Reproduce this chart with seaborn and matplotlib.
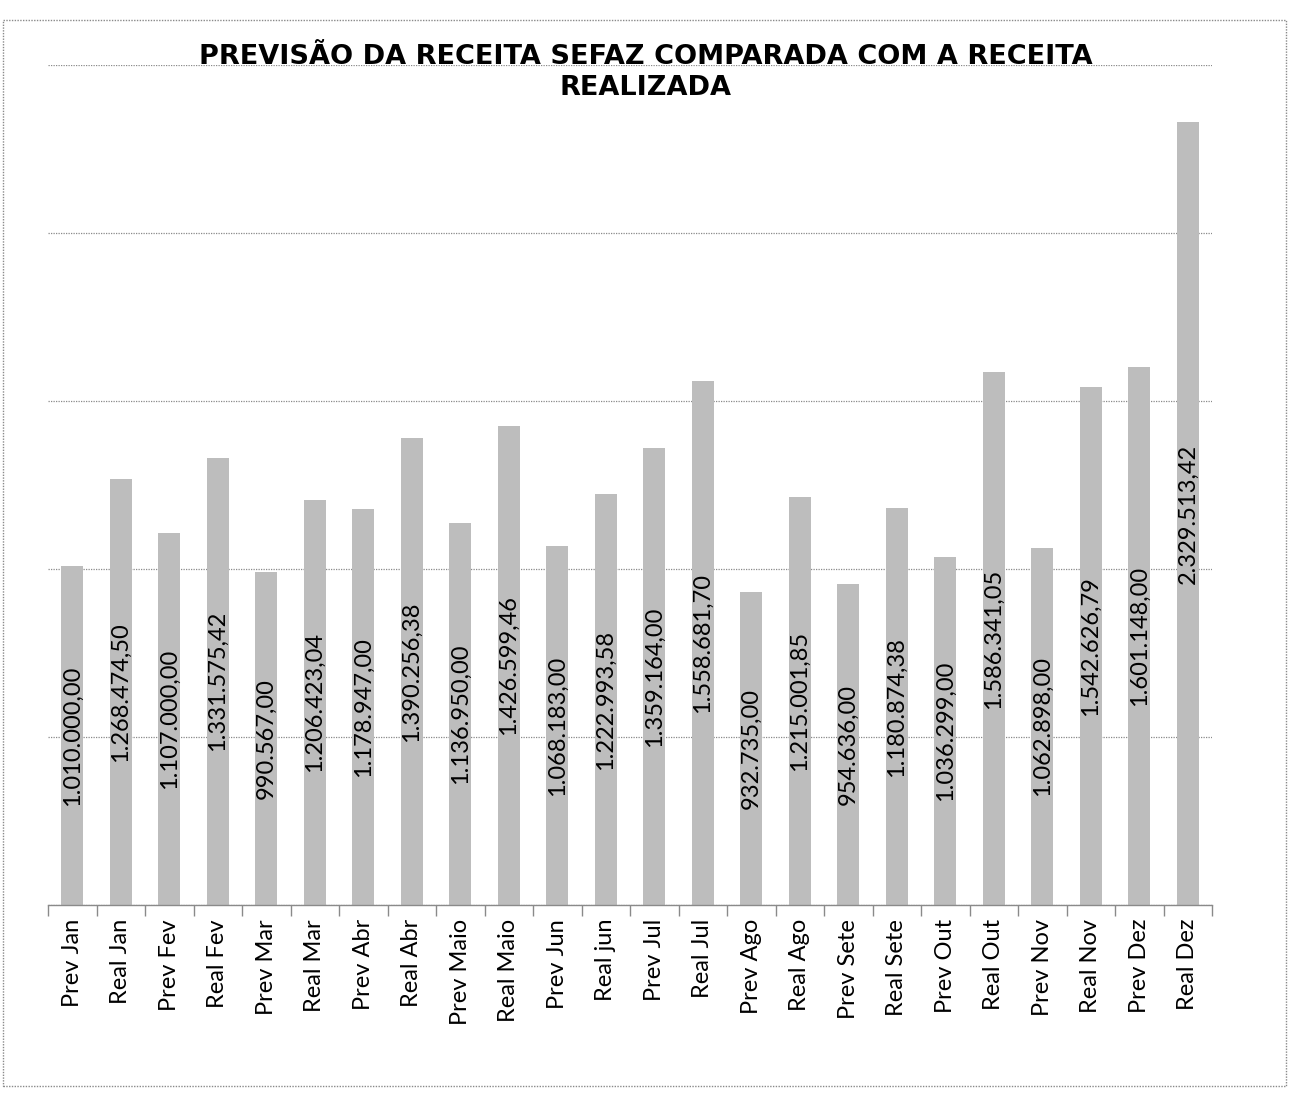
import matplotlib
matplotlib.use("Agg")
import matplotlib.pyplot as plt
import seaborn as sns
import pandas as pd
from matplotlib.patches import Rectangle

categories = ["Prev Jan", "Real Jan", "Prev Fev", "Real Fev", "Prev Mar", "Real Mar",
              "Prev Abr", "Real Abr", "Prev Maio", "Real Maio", "Prev Jun", "Real jun",
              "Prev Jul", "Real Jul", "Prev Ago", "Real Ago", "Prev Sete", "Real Sete",
              "Prev Out", "Real Out", "Prev Nov", "Real Nov", "Prev Dez", "Real Dez"]
values = [1010000.00, 1268474.50, 1107000.00, 1331575.42, 990567.00, 1206423.04,
          1178947.00, 1390256.38, 1136950.00, 1426599.46, 1068183.00, 1222993.58,
          1359164.00, 1558681.70, 932735.00, 1215001.85, 954636.00, 1180874.38,
          1036299.00, 1586341.05, 1062898.00, 1542626.79, 1601148.00, 2329513.42]
title = "PREVISÃO DA RECEITA SEFAZ COMPARADA COM A RECEITA\nREALIZADA"

sns.set_theme(style="white")
plt.rcParams["font.family"] = ["Lato", "DejaVu Sans"]

df = pd.DataFrame({"cat": categories, "val": values})

fig = plt.figure(figsize=(12.91, 10.93), dpi=100)
ax = fig.add_axes([48/1291, 1-905/1093, (1212-48)/1291, (905-65)/1093])

sns.barplot(data=df, x="cat", y="val", color="#bdbdbd", saturation=1,
            width=0.46, ax=ax, edgecolor="none")

ax.set_ylim(0, 2500000)
ax.set_xlim(-0.5, len(categories)-0.5)
ax.set_yticks([0, 500000, 1000000, 1500000, 2000000, 2500000])
ax.set_yticklabels([])
ax.tick_params(axis="y", length=0)
ax.yaxis.grid(True, color="#8a8a8a", linestyle=(0, (1, 1)), linewidth=0.9)
ax.set_axisbelow(True)
ax.set_xlabel("")
ax.set_ylabel("")

for s in ["left", "right", "top"]:
    ax.spines[s].set_visible(False)
ax.spines["bottom"].set_color("#8a8a8a")
ax.spines["bottom"].set_linestyle((0, (1, 1)))
ax.spines["bottom"].set_linewidth(1.0)

ax.set_xticks(range(len(categories)))
ax.set_xticklabels(categories, rotation=90, fontsize=17, color="black")
ax.tick_params(axis="x", which="major", length=0, pad=10)
ax.set_xticks([i - 0.5 for i in range(len(categories) + 1)], minor=True)
ax.tick_params(axis="x", which="minor", bottom=True, length=8, color="#8a8a8a",
               width=1, direction="out")

def fmt(v):
    s = f"{v:,.2f}"
    return s.replace(",", "X").replace(".", ",").replace("X", ".")

ax.bar_label(ax.containers[0], labels=[fmt(v) for v in values], label_type="center",
             rotation=90, fontsize=17, color="black")

fig.text(0.5, 1-44/1093, title, ha="center", va="top", fontsize=19.5,
         fontweight="bold", family="DejaVu Sans", linespacing=1.25, color="black")

fig.patches.append(Rectangle((3/1291, 1-1086/1093), (1286-3)/1291, (1086-20)/1093,
                             transform=fig.transFigure, fill=False,
                             edgecolor="#8a8a8a", linestyle=(0, (1, 1)), linewidth=1))

fig.savefig("out.png", dpi=100, facecolor="white")
